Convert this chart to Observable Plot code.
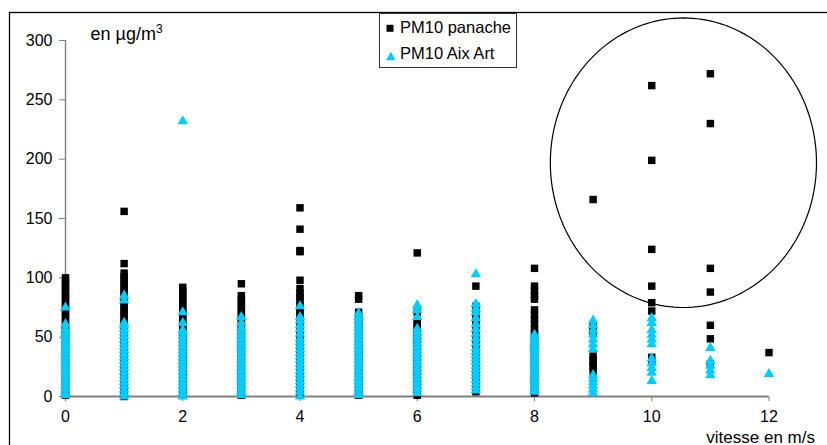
<!DOCTYPE html>
<html><head><meta charset="utf-8">
<script src="https://cdn.jsdelivr.net/npm/d3@7"></script>
<script src="https://cdn.jsdelivr.net/npm/@observablehq/plot@0.6"></script>
<style>
body{margin:0;background:#fff;}
#wrap{position:relative;width:827px;height:445px;overflow:hidden;font-family:"Liberation Sans",Arial,sans-serif;}
#wrap > svg{position:absolute;left:0;top:0;}
#deco{pointer-events:none;}
</style>
</head><body>
<div id="wrap"></div>
<script>
// ---- data ----
const speeds = [0,1,2,3,4,5,6,7,8,9,10,11,12];
const xTicks = [0,2,4,6,8,10,12];
const yTicks = [0,50,100,150,200,250,300];
const seriesNames = ["PM10 panache","PM10 Aix Art"];
const xTitle = "vitesse en m/s";
const yUnit = "en µg/m";
// PM10 panache values, one list per wind speed
const panache = [
  [1,3,6,9,12,14,17,20,23,26,29,32,34,37,40,43,46,49,52,55,57,60,63,66,69,72,75,78,81,84,86,89,92,95,98,100],
  [0,3,6,9,11,14,17,20,23,26,29,31,34,37,40,43,46,49,52,54,57,60,63,66,69,72,75,77,80,83,86,89,92,95,98,101,104,112,156],
  [1,4,7,10,13,16,19,21,24,27,30,33,36,39,42,45,48,51,53,56,59,62,65,68,71,74,77,80,83,86,89,92],
  [1,4,7,10,13,16,19,22,25,28,31,34,37,40,43,46,49,52,55,58,61,64,67,70,73,76,79,82,85,95],
  [3,5,8,11,14,17,20,23,26,29,32,35,38,41,44,47,50,53,56,59,62,65,68,71,74,77,81,84,87,91,98,122,123,141,159],
  [1,4,7,10,13,16,19,22,25,28,31,34,37,40,43,46,49,52,55,58,61,64,67,71,82,85],
  [1,4,7,10,13,16,19,22,25,28,31,34,37,40,43,46,49,52,55,58,61,64,71,121],
  [4,7,10,13,16,19,22,25,28,31,34,37,40,43,46,49,52,55,58,61,64,67,70,73,76,93],
  [3,6,9,12,15,18,21,24,27,30,33,36,39,42,45,48,51,54,57,61,65,69,73,82,85,89,93,108],
  [21,25,28,31,34,54,57,60,166],
  [29,33,72,79,93,124,199,262],
  [27.5,48.6,60,88,108,230,272],
  [37]
];
// PM10 Aix Art values, one list per wind speed
const aixArt = [
  [1,3,6,9,12,15,18,21,24,27,30,33,36,39,42,45,48,51,54,57,61,75],
  [0,3,6,9,12,15,18,21,24,27,30,33,36,39,42,45,48,51,54,57,60,62,81,85],
  [0,3,6,9,12,15,18,21,24,27,30,33,36,39,42,45,48,51,54,56,62,71,232],
  [1,4,7,10,13,16,19,22,25,28,31,34,37,40,43,46,49,52,55,58,62,67],
  [0,4,7,10,13,16,19,22,25,28,31,34,37,40,43,46,49,53,57,60,64,67,76],
  [1,4,7,10,13,16,19,22,25,28,31,34,37,40,43,46,49,52,55,58,61,64,67,70],
  [3,6,9,12,15,18,21,24,27,30,33,36,39,42,45,48,51,54,57,67,73,77],
  [5,8,11,14,17,20,23,26,29,32,35,38,41,45,49,53,57,61,66,71,74,78,103],
  [4,7,10,13,16,19,22,25,28,31,34,37,40,43,46,49,52],
  [3,6,9,12,15,18,40,44,48,52,56,60,64],
  [13,20,24,28,32,44,48,52,56,62,66],
  [18,22,26,30,41],
  [19]
];
// annotation ellipse (data units): centre speed, centre value, radii
const ellipseCenter = [10.54, 197];
const ellipseRadii = [2.27, 122];

// ---- build tables ----
const blackPts = speeds.flatMap((s, i) => panache[i].map(v => ({speed: s, value: v})));
const cyanPts = speeds.flatMap((s, i) => aixArt[i].map(v => ({speed: s, value: v})));
const ring = d3.range(0, 361, 2).map(a => ({
  x: ellipseCenter[0] + ellipseRadii[0] * Math.cos(a * Math.PI / 180),
  y: ellipseCenter[1] + ellipseRadii[1] * Math.sin(a * Math.PI / 180)
}));

const CYAN = "#00ccff";
const chart = Plot.plot({
  width: 827, height: 445,
  marginLeft: 65, marginRight: 58.5, marginTop: 40, marginBottom: 49,
  style: {fontFamily: "'Liberation Sans', Arial, sans-serif", background: "white", color: "black", overflow: "visible"},
  x: {domain: [0, 12], axis: null},
  y: {domain: [0, 300], axis: null},
  marks: [
    Plot.ruleX([0], {y1: 0, y2: 300, stroke: "#808080", strokeWidth: 1.4}),
    Plot.axisY(yTicks, {tickSize: 6, tickPadding: 7, stroke: "#808080", fill: "black", fontSize: 16, label: null}),
    Plot.axisX(xTicks, {tickSize: 5, tickPadding: 9.5, stroke: "#808080", fill: "black", fontSize: 16, label: null}),
    Plot.ruleY([0], {x1: 0, x2: 12, stroke: "#808080", strokeWidth: 2}),
    Plot.dot(blackPts, {x: "speed", y: "value", symbol: "square", r: 4.2, fill: "black"}),
    Plot.dot(cyanPts, {x: "speed", y: "value", symbol: "triangle", r: 3.9, fill: CYAN}),
    Plot.line(ring, {x: "x", y: "y", stroke: "black", strokeWidth: 1.2})
  ]
});
const wrap = document.getElementById("wrap");
wrap.appendChild(chart);

// ---- decorations: outer frame, legend, unit & axis titles ----
const NS = "http://www.w3.org/2000/svg";
const deco = document.createElementNS(NS, "svg");
deco.setAttribute("id", "deco");
deco.setAttribute("width", 827); deco.setAttribute("height", 445);
deco.style.position = "absolute"; deco.style.left = "0"; deco.style.top = "0";
deco.innerHTML = `
<rect x="9.5" y="12.5" width="900" height="500" fill="none" stroke="black" stroke-width="1.3"/>
<rect x="379.5" y="13.5" width="137" height="54" fill="white" stroke="#333" stroke-width="1"/>
<rect x="386.5" y="24.8" width="7" height="7" fill="black"/>
<path d="M390.8,51.8 L395.6,60.3 L386,60.3 Z" fill="${CYAN}"/>
<text x="400" y="32.5" font-size="16.5" font-family="'Liberation Sans', Arial, sans-serif">${seriesNames[0]}</text>
<text x="400" y="59.3" font-size="16.5" font-family="'Liberation Sans', Arial, sans-serif">${seriesNames[1]}</text>
<text x="90.5" y="40" font-size="18" font-family="'Liberation Sans', Arial, sans-serif">${yUnit}<tspan dy="-7" font-size="12">3</tspan></text>
<text x="815" y="442.5" text-anchor="end" font-size="17" font-family="'Liberation Sans', Arial, sans-serif">${xTitle}</text>
`;
wrap.appendChild(deco);
</script>
</body></html>
